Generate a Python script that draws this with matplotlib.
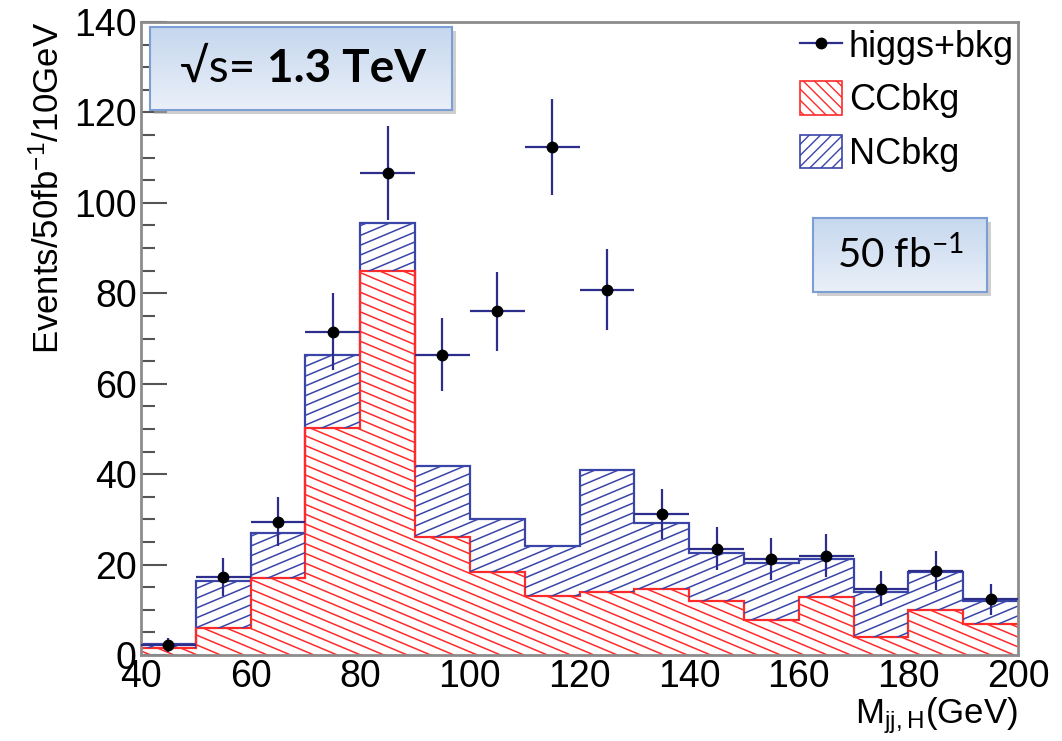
import matplotlib
matplotlib.use("Agg")
import matplotlib.pyplot as plt
import numpy as np
from matplotlib.collections import LineCollection
from matplotlib.transforms import IdentityTransform
from matplotlib.lines import Line2D
from matplotlib.patches import Patch, Rectangle
from matplotlib.ticker import MultipleLocator

# histogram bins (GeV)
edges = np.arange(40, 201, 10)
cc_bkg = [1.5, 6.0, 17.0, 50.3, 85.0, 26.2, 18.3, 13.0, 13.9, 14.7, 11.9, 7.7, 12.9, 3.9, 10.0, 6.9]
nc_bkg = [0.9, 10.4, 10.0, 16.1, 10.6, 15.5, 11.7, 11.1, 27.0, 14.4, 10.7, 12.7, 8.3, 10.1, 8.3, 5.1]
higgs_bkg = [2.2, 17.3, 29.5, 71.5, 106.6, 66.4, 76.0, 112.4, 80.8, 31.2, 23.5, 21.2, 22.0, 14.7, 18.6, 12.3]
higgs_err = [1.5, 4.2, 5.4, 8.5, 10.3, 8.1, 8.7, 10.6, 9.0, 5.6, 4.8, 4.6, 4.7, 3.8, 4.3, 3.5]

W, H = 1062, 741
RED = "#ff2a2a"
BLUE = "#3a45a8"
NAVY = "#2d2d8c"

plt.rcParams["font.family"] = ["Liberation Sans", "DejaVu Sans"]

fig = plt.figure(figsize=(W / 100, H / 100), dpi=100)
ax = fig.add_axes([141 / W, 1 - 655 / H, 877 / W, 633 / H])
ax.set_xlim(40, 200)
ax.set_ylim(0, 140)


def hatch(patch, color, slope, spacing):
    # ROOT-like shallow hatching drawn in pixel space, clipped to the patch
    x0, y0, x1, y1 = ax.bbox.extents
    span = abs(slope) * (x1 - x0)
    segs = []
    for c in np.arange(y0 - span - spacing, y1 + span + spacing, spacing):
        segs.append([(x0, c), (x1, c + slope * (x1 - x0))])
    lc = LineCollection(segs, colors=color, linewidths=1.1, transform=IdentityTransform())
    lc.set_clip_path(patch)
    ax.add_collection(lc, autolim=False)


cc = np.array(cc_bkg)
total = cc + np.array(nc_bkg)

red_fill = ax.stairs(cc, edges, baseline=0, fill=True, facecolor="white", edgecolor="none")
blue_fill = ax.stairs(total, edges, baseline=cc, fill=True, facecolor="white", edgecolor="none")
hatch(red_fill, RED, -0.42, 9.8)
hatch(blue_fill, BLUE, 0.42, 9.8)
ax.stairs(total, edges, baseline=None, color=BLUE, linewidth=1.6)
ax.stairs(cc, edges, baseline=None, color=RED, linewidth=1.6)

centers = edges[:-1] + 5
ax.errorbar(centers, higgs_bkg, xerr=5, yerr=higgs_err, fmt="o", color="black",
            ecolor=NAVY, elinewidth=1.6, markersize=7.5, capsize=0, zorder=5)

for s in ax.spines.values():
    s.set_color("#8c8c8c")
    s.set_linewidth(2)
ax.yaxis.set_major_locator(MultipleLocator(20))
ax.yaxis.set_minor_locator(MultipleLocator(5))
ax.xaxis.set_major_locator(MultipleLocator(20))
ax.tick_params(axis="y", which="major", direction="in", length=19, width=1.5,
               color="#555555", labelsize=27, pad=3)
ax.tick_params(axis="y", which="minor", direction="in", length=10, width=1.5, color="#555555")
ax.tick_params(axis="x", which="both", length=0, labelsize=27, pad=3)

ax.set_ylabel("Events/50fb$\\mathregular{^{-1}}$/10GeV", fontsize=25, loc="top", labelpad=6)
ax.set_xlabel("M$\\mathregular{_{jj,H}}$(GeV)", fontsize=25, loc="right", labelpad=0)

handles = [
    Line2D([], [], color=NAVY, marker="o", markerfacecolor="black",
           markeredgecolor="black", markersize=7.5, linewidth=1.6),
    Patch(facecolor="white", edgecolor=RED, hatch="\\\\\\", linewidth=1.2),
    Patch(facecolor="white", edgecolor=BLUE, hatch="///", linewidth=1.2),
]
leg = fig.legend(handles, ["higgs+bkg", "CCbkg", "NCbkg"], loc="upper left",
                 bbox_to_anchor=(800 / W, 1 - 28 / H), frameon=False, fontsize=26,
                 handlelength=1.15, handleheight=1.05, handletextpad=0.2,
                 labelspacing=0.45, borderpad=0, borderaxespad=0)


def box(l, t, r, b):
    shadow = Rectangle(((l + 4) / W, 1 - (b + 4) / H), (r - l) / W, (b - t) / H,
                       transform=fig.transFigure, facecolor="#b0b0b0", edgecolor="none",
                       alpha=0.6, zorder=2.5)
    fig.patches.append(shadow)
    bax = fig.add_axes([l / W, 1 - b / H, (r - l) / W, (b - t) / H], zorder=3)
    grad = np.linspace(0, 1, 64).reshape(-1, 1)
    cmap = matplotlib.colors.LinearSegmentedColormap.from_list("g", ["#eaf0f9", "#c6d7ee"])
    bax.imshow(grad, aspect="auto", cmap=cmap, extent=(0, 1, 0, 1))
    bax.set_xlim(0, 1)
    bax.set_ylim(1, 0)
    bax.set_xticks([])
    bax.set_yticks([])
    for s in bax.spines.values():
        s.set_color("#7b9fd4")
        s.set_linewidth(1.5)
    return bax


b1 = box(150, 27, 452, 110)
t1 = b1.text(0.10, 0.5, "√s= ", ha="left", va="center", fontsize=33,
             family=["Lato", "DejaVu Sans"], transform=b1.transAxes)
b1.annotate("1.3 TeV", xy=(1, 0.5), xycoords=t1, ha="left", va="center",
            fontsize=33, fontweight="bold", family=["Lato", "DejaVu Sans"])

b2 = box(813, 218, 987, 292)
b2.text(0.5, 0.5, "50 fb$\\mathregular{^{-1}}$", ha="center", va="center", fontsize=29,
        family=["Lato", "DejaVu Sans"], transform=b2.transAxes)

fig.savefig("out.png", dpi=100)
